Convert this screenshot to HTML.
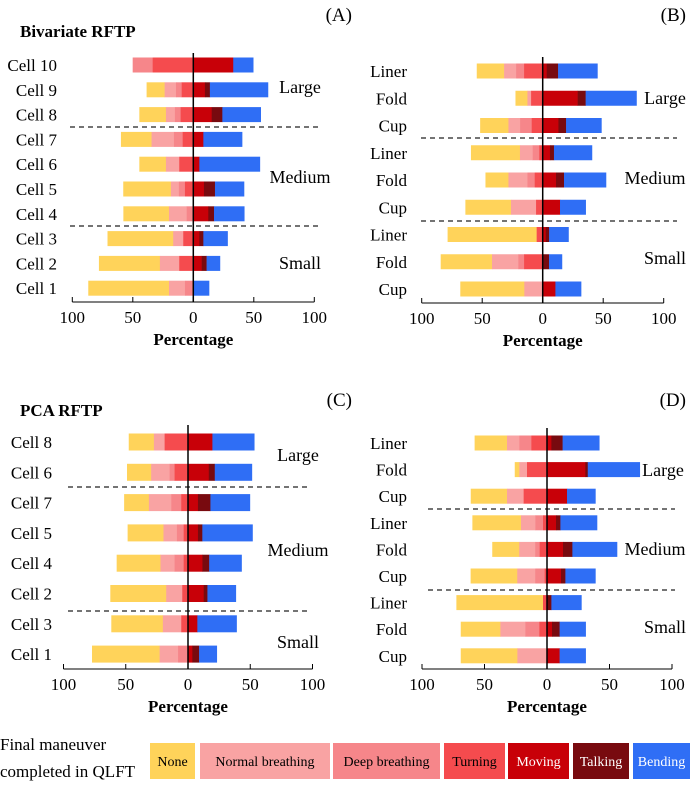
<!DOCTYPE html>
<html><head><meta charset="utf-8"><style>
html,body{margin:0;padding:0;background:#fff;}
svg{display:block;}
svg text{font-family:"Liberation Serif","Times New Roman",serif;}
</style></head><body>
<svg id="chart" width="690" height="787" viewBox="0 0 690 787" xmlns="http://www.w3.org/2000/svg" font-family="Liberation Serif, serif">
<text x="20" y="37" font-size="17" font-weight="bold">Bivariate RFTP</text>
<text x="20" y="416" font-size="17" font-weight="bold">PCA RFTP</text>
<text x="352" y="21" font-size="19" text-anchor="end">(A)</text>
<text x="686" y="21" font-size="19" text-anchor="end">(B)</text>
<text x="352" y="406" font-size="19" text-anchor="end">(C)</text>
<text x="686" y="406" font-size="19" text-anchor="end">(D)</text>
<g id="legend">
<text x="0" y="750" font-size="17">Final maneuver</text>
<text x="0" y="777" font-size="17">completed in QLFT</text>
</g>
</svg>
<script>
const seriesNames=["None","Normal breathing","Deep breathing","Turning","Moving","Talking","Bending"];
const seriesColors=["#FFD35A","#F9A3A3","#F6868A","#F54B4E","#C80008","#780A0F","#2F6EF5"];
const tickValues=[-100,-50,0,50,100];
const tickLabels=["100","50","0","50","100"];
const groupNames=["Large","Medium","Small"];

const aCats=["Cell 10","Cell 9","Cell 8","Cell 7","Cell 6","Cell 5","Cell 4","Cell 3","Cell 2","Cell 1"];
const aNone=[0,14.9,22,25.3,22,39.4,37.7,54.3,50.4,66.7];
const aNormal=[0,9.4,7.4,18.5,11,6.6,14.6,8.3,16,13.2];
const aDeep=[16.5,4.7,4.7,7.2,0,5,5.5,0,0,6.9];
const aTurning=[33.6,9.6,10.5,8.8,11.6,6.9,0,8.3,11.6,0];
const aMoving=[33,9.6,15.2,8.3,5,8.8,12.4,5,6.9,0];
const aTalking=[0,4.1,8.8,0,0,9.1,4.7,3.3,4.1,0];
const aBending=[16.5,48,31.7,32,50,24,25,20,11,13];

const bCats=["Liner","Fold","Cup","Liner","Fold","Cup","Liner","Fold","Cup"];
const bNone=[22.6,9.9,23.4,40.5,19,37.7,73.6,42.4,52.9];
const bNormal=[9.9,3,9.6,10.5,15.7,20.7,0,21.8,15.2];
const bDeep=[6.6,0,9.6,5.5,6,0,0,4.7,0];
const bTurning=[15.4,9.6,9.1,2.8,6.6,5.5,5,15.4,0];
const bMoving=[3.3,28.9,13,6,11,14.3,2.5,0,10.5];
const bTalking=[9.4,6.6,6.3,3.3,6.6,0,2.8,5.2,0];
const bBending=[32.5,42,29.2,31.4,34.7,21.2,16,10.7,21.2];

const cCats=["Cell 8","Cell 6","Cell 7","Cell 5","Cell 4","Cell 2","Cell 3","Cell 1"];
const cNone=[20.2,19.4,19.9,28.8,35.2,44.9,41.4,54.3];
const cNormal=[8.6,14.8,18,10.8,11.3,12.9,14.8,14.8];
const cDeep=[0,4,8,5.4,7.3,0,0,8];
const cTurning=[18.8,10.8,5.4,3.5,3.5,4.6,5.4,0];
const cMoving=[19.6,16.7,8,8,11.6,12.6,7.5,3.5];
const cTalking=[0,4.8,10,3.5,5.4,3,0,5.4];
const cBending=[33.6,29.8,31.7,40.3,26,22.8,31.5,14.2];

const dCats=["Liner","Fold","Cup","Liner","Fold","Cup","Liner","Fold","Cup"];
const dNone=[25.9,3.7,29,38.9,21.6,37.3,69.3,31.7,45.3];
const dNormal=[9.9,6.1,13.3,11.5,12.8,14.4,0,20,23.7];
const dDeep=[9.6,0,0,6.1,3.5,7.5,0,11.2,0];
const dTurning=[12.5,16,18.7,3.2,5.9,1.9,3.2,6.1,0];
const dMoving=[3.5,30.7,16,7.2,12.8,11.2,0,4,10.1];
const dTalking=[9,1.9,0,3.5,7.5,3.5,3.5,6.1,0];
const dBending=[29.3,41.6,22.7,29.3,35.7,24,24,20.8,20.8];

const NS="http://www.w3.org/2000/svg";
const svg=document.getElementById("chart");
function mk(tag,attrs,parent){const e=document.createElementNS(NS,tag);for(const k in attrs)e.setAttribute(k,attrs[k]);(parent||svg).appendChild(e);return e;}

const panels=[
 {id:"a",cats:aCats,series:[aNone,aNormal,aDeep,aTurning,aMoving,aTalking,aBending],zeroX:193.3,scale:1.21,y0:65,step:24.8,barH:15,axisY:302,topY:53,dashes:[127,226],dx0:70,dx1:318,labelX:57,groups:[[300,87],[300,177],[300,263]]},
 {id:"b",cats:bCats,series:[bNone,bNormal,bDeep,bTurning,bMoving,bTalking,bBending],zeroX:542.7,scale:1.21,y0:71,step:27.25,barH:15,axisY:303,topY:57,dashes:[138,221],dx0:421,dx1:677,labelX:407,groups:[[665,98],[655,178],[665,258]]},
 {id:"c",cats:cCats,series:[cNone,cNormal,cDeep,cTurning,cMoving,cTalking,cBending],zeroX:188,scale:1.245,y0:442,step:30.3,barH:17,axisY:669,topY:425,dashes:[487,611],dx0:68,dx1:310,labelX:52,groups:[[298,455],[298,550],[298,642]]},
 {id:"d",cats:dCats,series:[dNone,dNormal,dDeep,dTurning,dMoving,dTalking,dBending],zeroX:547,scale:1.25,y0:443,step:26.6,barH:15,axisY:669,topY:428,dashes:[509,590],dx0:428,dx1:675,labelX:407,groups:[[663,470],[655,549],[665,627]]}
];

panels.forEach(p=>{
 const g=mk("g",{});
 
 
 const xs=v=>p.zeroX+v*p.scale;
 const ys=i=>p.y0+i*p.step;
 p.cats.forEach((c,i)=>{
  const cy=ys(i);
  let left=-(p.series[0][i]+p.series[1][i]+p.series[2][i]+p.series[3][i]);
  let pos=left;
  for(let s=0;s<7;s++){
   const v=p.series[s][i];
   if(s===4)pos=0;
   if(v>0){
    const r=mk("rect",{x:xs(pos),y:cy-p.barH/2,width:v*p.scale+0.3,height:p.barH,fill:seriesColors[s]},g);
    
    
   }
   pos+=v;
  }
  const t=mk("text",{x:p.labelX,y:cy+6,"font-size":17,"text-anchor":"end"},g);
  t.textContent=c;
  
  
 });
 p.dashes.forEach((dy,k)=>{
  const l=mk("line",{x1:p.dx0,x2:p.dx1,y1:dy,y2:dy,stroke:"#222","stroke-width":1.3,"stroke-dasharray":"5,4"},g);
  
  
 });
 const z=mk("line",{x1:p.zeroX,x2:p.zeroX,y1:p.topY,y2:p.axisY,stroke:"#000","stroke-width":1.5},g);
 
 
 const ax=mk("line",{x1:xs(-100),x2:xs(100),y1:p.axisY,y2:p.axisY,stroke:"#000","stroke-width":1},g);
 
 
 tickValues.forEach((v,k)=>{
  const tk=mk("line",{x1:xs(v),x2:xs(v),y1:p.axisY-5,y2:p.axisY,stroke:"#000","stroke-width":1},g);
  
  
  const tl=mk("text",{x:xs(v),y:p.axisY+21,"font-size":17,"text-anchor":"middle"},g);
  tl.textContent=tickLabels[k];
  
  
 });
 const xt=mk("text",{x:p.zeroX,y:p.axisY+43,"font-size":17,"font-weight":"bold","text-anchor":"middle"},g);
 xt.textContent="Percentage";
 
 
 p.groups.forEach((gp,k)=>{
  const gt=mk("text",{x:gp[0],y:gp[1]+6,"font-size":18,"text-anchor":"middle"},g);
  gt.textContent=groupNames[k];
  
  
 });
});

const legendBoxes=[[150,195],[200,330],[333,440],[444,505],[508,569],[573,629],[633,690]];
const lg=document.getElementById("legend");
seriesNames.forEach((n,s)=>{
 const b=legendBoxes[s];
 const r=mk("rect",{x:b[0],y:743,width:b[1]-b[0],height:36,fill:seriesColors[s]},lg);
 
 
 const t=mk("text",{x:(b[0]+b[1])/2,y:766,"font-size":14,"text-anchor":"middle",fill:s>=4?"#fff":"#000"},lg);
 t.textContent=n;
 
 
});
</script>
</body></html>
